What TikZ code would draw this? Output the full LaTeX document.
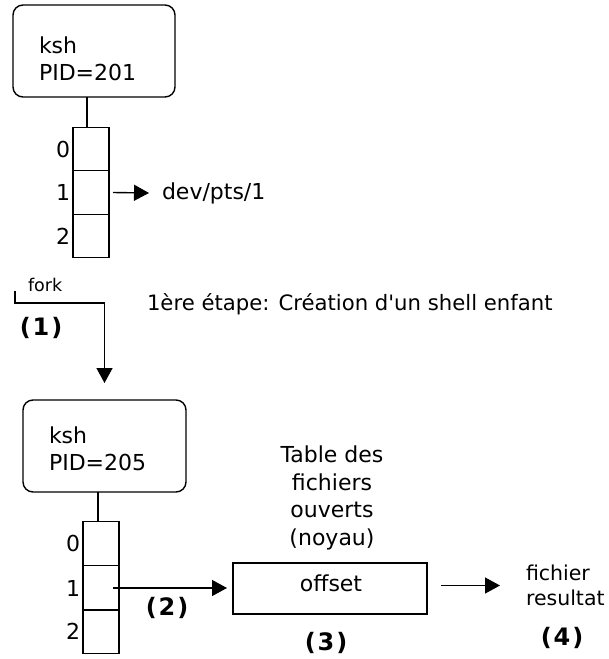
\documentclass[tikz,border=0pt]{standalone}
\usepackage{fontspec}
\setmainfont{DejaVu Sans}[Ligatures=TeXOff]
\usetikzlibrary{arrows.meta}
\begin{document}
\begin{tikzpicture}[x=1pt,y=-1pt,
  line width=1.4pt,
  every node/.style={inner sep=0pt,outer sep=0pt},
  txt/.style={font=\fontsize{22}{27.5}\selectfont},
  small/.style={font=\fontsize{17.5}{19}\selectfont},
  step num/.style={font=\fontsize{24}{26}\selectfont\bfseries\addfontfeature{LetterSpace=8}},
  procbox/.style={draw,rounded corners=10pt,minimum width=162pt,minimum height=92pt},
  cell/.style={draw,minimum width=36pt,minimum height=43.5pt},
  idx/.style={txt,anchor=east},
  filebox/.style={draw,minimum width=194pt,minimum height=51pt},
  arr/.style={-{Triangle[length=15pt,width=16pt]}}
]
\useasboundingbox[fill=white] (0,0) rectangle (609,659);

% --- parent shell ---
\node[procbox] (p1) at (94,51) {};
\node[txt,anchor=west,align=left] (p1t) at (39,59) {ksh\\PID=201};

\node[cell] (a0) at (91,149) {};
\node[cell] (a1) at (91,192.5) {};
\node[cell] (a2) at (91,236) {};
\node[idx] (a0l) at ([xshift=-3pt]a0.west) {0};
\node[idx] (a1l) at ([xshift=-3pt]a1.west) {1};
\node[idx] (a2l) at ([xshift=-3pt]a2.west) {2};
\draw ([xshift=-4pt]a0.north) -- ([xshift=-4pt]a0.north |- p1.south);

\node[txt,anchor=west] (dev) at (162,193) {dev/pts/1};
\draw[arr] ([xshift=4pt]a1.east) -- ([xshift=-13pt]dev.west);

% --- fork ---
\coordinate (fk) at (15,291);
\coordinate (fc) at (104.5,303);
\node[small,anchor=west] (forkl) at (28,285) {fork};
\node[step num] (s1) at (41,328) {(1)};
\node[txt,anchor=west,font=\fontsize{21.2}{26}\selectfont] (cap) at (147,304) {1ère étape: Création d'un shell enfant};

% --- child shell ---
\node[procbox,minimum width=163pt] (p2) at (104.5,446) {};
\node[txt,anchor=west,align=left] (p2t) at (49,449) {ksh\\PID=205};
\draw[arr] (fk) |- (fc) -- ([yshift=17pt]p2.north);

\node[cell,minimum height=44.5pt] (b0) at (101,543.5) {};
\node[cell,minimum height=44.5pt] (b1) at (101,588) {};
\node[cell,minimum height=43.5pt] (b2) at (101,631.5) {};
\node[idx] (b0l) at ([xshift=-3pt]b0.west) {0};
\node[idx] (b1l) at ([xshift=-3pt]b1.west) {1};
\node[idx] (b2l) at ([xshift=-3pt]b2.west) {2};
\draw ([xshift=-3pt]b0.north) -- ([xshift=-3pt]b0.north |- p2.south);

% --- open file table ---
\node[filebox] (off) at (330,588.5) {};
\node[txt] (offt) at (331,583) {offset};
\node[txt,align=center] (tbl) at (332,498) {Table des\\fichiers\\ouverts\\(noyau)};
\draw[arr] ([xshift=12pt]b1.center) -- ([xshift=-6pt]off.west |- b1.center);
\node[step num] (s2) at (167,608) {(2)};
\node[step num] (s3) at (326,643) {(3)};

% --- result file ---
\node[txt,anchor=west,align=left,font=\fontsize{20.5}{25}\selectfont] (res) at (526,585.5) {fichier\\resultat};
\draw[arr] ([xshift=14pt]off.east |- res.west) -- ([xshift=-26pt]res.west);
\node[step num] (s4) at (562,638) {(4)};
\end{tikzpicture}
\end{document}
